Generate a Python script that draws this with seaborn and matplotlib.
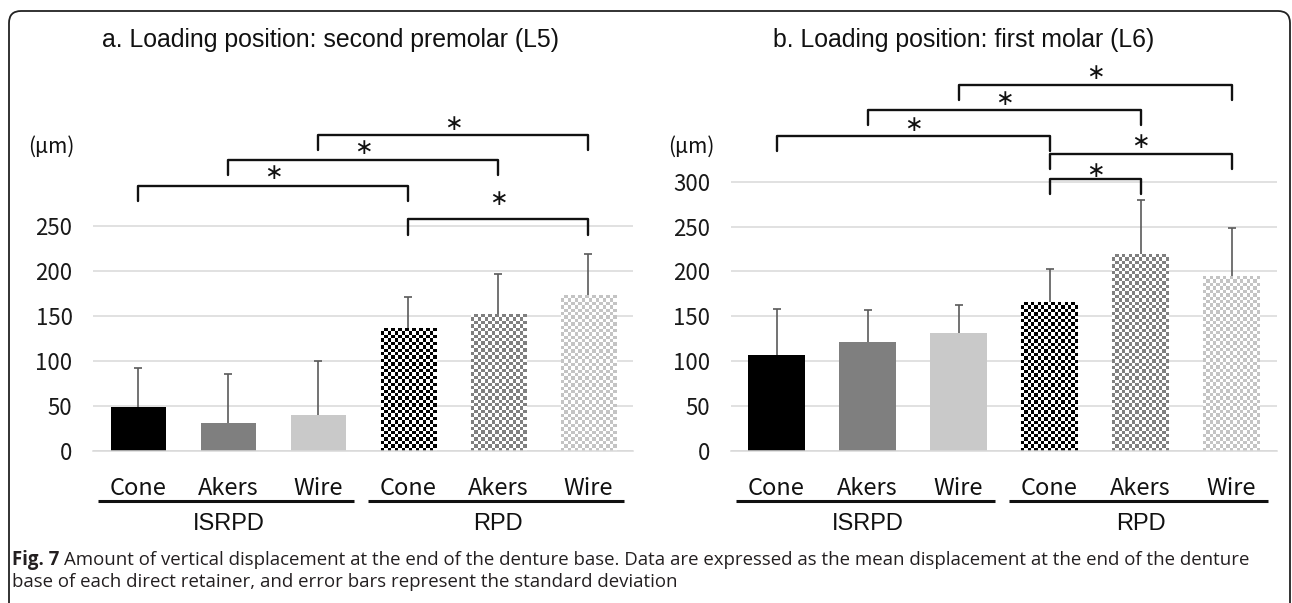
import numpy as np
import pandas as pd
import seaborn as sns
import matplotlib.pyplot as plt
from matplotlib.colors import to_rgb
from matplotlib.patches import FancyBboxPatch

# values (um)
retainers = ["Cone", "Akers", "Wire", "Cone", "Akers", "Wire"]
groups = ["ISRPD", "RPD"]
group_of_bar = ["ISRPD", "ISRPD", "ISRPD", "RPD", "RPD", "RPD"]
l5_mean = [49, 31, 40, 136, 152, 173]
l5_sd = [43, 54, 60, 35, 44, 46]
l6_mean = [107, 121, 131, 166, 219, 195]
l6_sd = [51, 36, 32, 37, 61, 53]
l5_ticks = [0, 50, 100, 150, 200, 250]
l6_ticks = [0, 50, 100, 150, 200, 250, 300]

# significance brackets: (bar i, bar j, line y, star y)
l5_pairs = [(0, 3, 294, 309), (1, 4, 323, 336), (2, 5, 351, 363), (3, 5, 257, 280)]
l6_pairs = [(0, 3, 351, 364), (1, 4, 380, 393), (2, 5, 408, 421),
            (3, 5, 331, 345), (3, 4, 303, 312)]

bar_colors = ["#000000", "#7f7f7f", "#c9c9c9", "#000000", "#7f7f7f", "#c4c4c4"]

W, H = 1292, 603
CJK = ["Noto Sans CJK KR", "DejaVu Sans"]
ARIAL = ["Liberation Sans", "DejaVu Sans"]


def checker_fill(ax, patch, color, ppx, ppy, cell=3.4):
    x0, y0 = patch.get_x(), patch.get_y()
    w, h = patch.get_width(), patch.get_height()
    nx = max(1, int(round(w * ppx / cell)))
    ny = max(1, int(round(h * ppy / cell)))
    board = np.add.outer(np.arange(ny), np.arange(nx)) % 2
    rgb = np.ones((ny, nx, 3))
    rgb[board == 0] = to_rgb(color)
    patch.set_facecolor("white")
    im = ax.imshow(rgb, extent=(x0, x0 + w, y0, y0 + h), origin="lower",
                   aspect="auto", interpolation="nearest",
                   zorder=patch.get_zorder() + 0.1)
    im.set_clip_path(patch)


def draw_panel(ax, means, sds, ticks, ytop, pairs, width_px, boundary_ticks):
    df = pd.DataFrame({"bar": [g + " " + r for g, r in zip(group_of_bar, retainers)],
                       "mean": means})
    sns.barplot(data=df, x="bar", y="mean", hue="bar", palette=bar_colors,
                errorbar=None, width=0.62, saturation=1, legend=False,
                linewidth=0, ax=ax)
    ax.set_xlim(-0.5, 5.5)
    ax.set_ylim(0, ytop)
    ppx = width_px / 6.0
    ppy = 390.7 / ytop
    for k, patch in enumerate(ax.patches):
        if k >= 3:
            checker_fill(ax, patch, bar_colors[k], ppx, ppy)

    eb = ax.errorbar(np.arange(6), means, yerr=[np.zeros(6), sds], fmt="none",
                     ecolor="#5a5a5a", elinewidth=1.2, capsize=3,
                     capthick=1.2, zorder=5)
    for cap in eb[1]:
        if np.allclose(cap.get_ydata(), means):
            cap.set_visible(False)

    ax.set_yticks(ticks)
    ax.set_yticklabels([str(t) for t in ticks], fontfamily=CJK, fontsize=16,
                       color="#1a1a1a")
    ax.tick_params(axis="y", length=0, pad=15)
    ax.yaxis.grid(True, color="#d9d9d9", linewidth=1.1)
    ax.set_axisbelow(True)
    for side in ["left", "top", "right"]:
        ax.spines[side].set_visible(False)
    ax.spines["bottom"].set_color("#d9d9d9")
    ax.spines["bottom"].set_linewidth(1.1)
    ax.set_xlabel("")
    ax.set_ylabel("")
    if boundary_ticks:
        ax.set_xticks(np.arange(-0.5, 6, 1))
        ax.tick_params(axis="x", length=8, color="#d9d9d9", width=1.1)
    else:
        ax.set_xticks([])
    ax.set_xticklabels([])

    # category labels, underlines and group names below the axis
    for i, r in enumerate(retainers):
        ax.annotate(r, xy=(i, 0), xycoords="data", xytext=(0, -38),
                    textcoords="offset pixels", ha="center", va="center",
                    fontfamily=CJK, fontsize=17, color="#111111",
                    annotation_clip=False)
    for gi, g in enumerate(groups):
        x0 = 3 * gi - 0.45
        x1 = 3 * gi + 2.4
        ax.plot([x0, x1], [-50 / ppy] * 2, color="#111111", lw=2.2,
                clip_on=False, solid_capstyle="butt")
        ax.annotate(g, xy=(3 * gi + 1, 0), xycoords="data", xytext=(0, -73),
                    textcoords="offset pixels", ha="center", va="center",
                    fontfamily=ARIAL, fontsize=17, color="#111111",
                    annotation_clip=False)

    # significance brackets
    drop = 17
    for i, j, y, sy in pairs:
        ax.plot([i, i, j, j], [y - drop, y, y, y - drop], color="#111111",
                lw=1.7, clip_on=False, zorder=6)
        ax.text((i + j) / 2, sy, "\u2217", ha="center", va="center",
                fontsize=16, fontfamily=["DejaVu Sans"], color="#111111")


def main():
    sns.set_style("white")
    plt.rcParams["font.family"] = CJK
    fig = plt.figure(figsize=(W / 100, H / 100), dpi=100)

    ax_a = fig.add_axes([93.4 / W, (H - 450.7) / H, 540 / W, 390.7 / H])
    ax_b = fig.add_axes([731 / W, (H - 450.7) / H, 546 / W, 390.7 / H])
    draw_panel(ax_a, l5_mean, l5_sd, l5_ticks, 434, l5_pairs, 540, True)
    draw_panel(ax_b, l6_mean, l6_sd, l6_ticks, 436, l6_pairs, 546, False)

    fig.text(330 / W, 1 - 40 / H, "a. Loading position: second premolar (L5)",
             ha="center", va="center", fontsize=17.9, fontfamily=ARIAL,
             color="#111111")
    fig.text(964 / W, 1 - 40 / H, "b. Loading position: first molar (L6)",
             ha="center", va="center", fontsize=17.9, fontfamily=ARIAL,
             color="#111111")
    fig.text(51 / W, 1 - 147 / H, "(\u03bcm)", ha="center", va="center",
             fontsize=15, fontfamily=CJK, color="#111111")
    fig.text(691 / W, 1 - 147 / H, "(\u03bcm)", ha="center", va="center",
             fontsize=15, fontfamily=CJK, color="#111111")

    # caption
    cap_font = ["Open Sans", "DejaVu Sans"]
    bold = fig.text(12 / W, 1 - 560 / H, "Fig. 7", ha="left", va="center",
                    fontsize=13.4, fontweight="bold", fontfamily=cap_font,
                    color="#231f20")
    renderer = fig.canvas.get_renderer()
    bx = bold.get_window_extent(renderer).x1
    fig.text((bx + 5) / W, 1 - 560 / H,
             "Amount of vertical displacement at the end of the denture base. "
             "Data are expressed as the mean displacement at the end of the denture",
             ha="left", va="center", fontsize=13.4, fontfamily=cap_font,
             color="#231f20")
    fig.text(12 / W, 1 - 582 / H,
             "base of each direct retainer, and error bars represent the standard deviation",
             ha="left", va="center", fontsize=13.4, fontfamily=cap_font,
             color="#231f20")

    frame = FancyBboxPatch((0.09, -0.3), 12.81, 6.22,
                           boxstyle="round,pad=0,rounding_size=0.12",
                           transform=fig.dpi_scale_trans, fill=False,
                           edgecolor="#222222", linewidth=1.3)
    fig.patches.append(frame)

    fig.savefig("out.png", dpi=100)


if __name__ == "__main__":
    main()
